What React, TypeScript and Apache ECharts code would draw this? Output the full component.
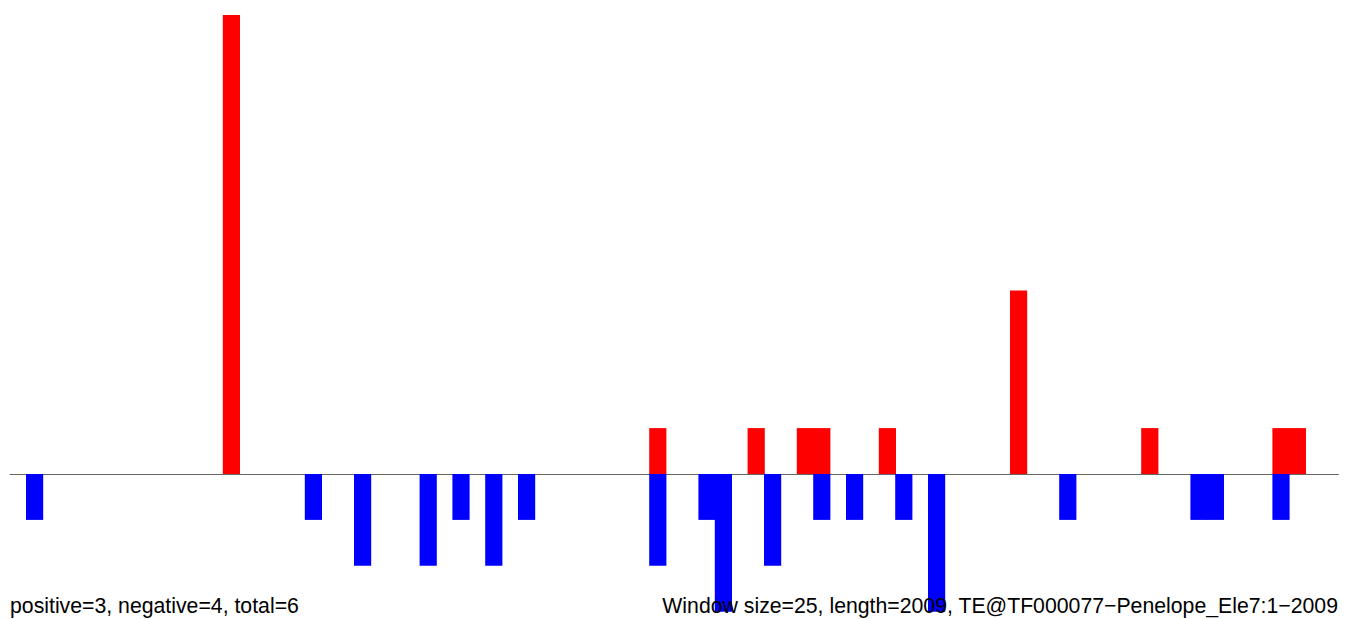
import React, { useEffect, useRef } from "react";
import * as echarts from "echarts";

// Window counts per 25-bp window (81 windows over length 2009)
const positive = [
  0, 0, 0, 0, 0, 0, 0, 0, 0, 0,
  0, 0, 0, 10, 0, 0, 0, 0, 0, 0,
  0, 0, 0, 0, 0, 0, 0, 0, 0, 0,
  0, 0, 0, 0, 0, 0, 0, 0, 0, 1,
  0, 0, 0, 0, 0, 1, 0, 0, 1, 1,
  0, 0, 0, 1, 0, 0, 0, 0, 0, 0,
  0, 4, 0, 0, 0, 0, 0, 0, 0, 1,
  0, 0, 0, 0, 0, 0, 0, 1, 1, 0,
  0,
];
const negative = [
  0, -1, 0, 0, 0, 0, 0, 0, 0, 0,
  0, 0, 0, 0, 0, 0, 0, 0, -1, 0,
  0, -2, 0, 0, 0, -2, 0, -1, 0, -2,
  0, -1, 0, 0, 0, 0, 0, 0, 0, -2,
  0, 0, -1, -3, 0, 0, -2, 0, 0, -1,
  0, -1, 0, 0, -1, 0, -3, 0, 0, 0,
  0, 0, 0, 0, -1, 0, 0, 0, 0, 0,
  0, 0, -1, -1, 0, 0, 0, -1, 0, 0,
  0,
];
const windowLabels = positive.map((_, i) => String(i + 1));
const leftCaption = "positive=3, negative=4, total=6";
const rightCaption = "Window size=25, length=2009, TE@TF000077\u2212Penelope_Ele7:1\u22122009";

const asBars = (arr: number[]) => arr.map((v) => (v === 0 ? "-" : v));

export default function App() {
  const ref = useRef<HTMLDivElement>(null);
  useEffect(() => {
    if (!ref.current) return;
    const chart = echarts.init(ref.current, null, { renderer: "svg" });
    const font = "21.25px 'Liberation Sans', Arial, sans-serif";
    chart.setOption({
      animation: false,
      backgroundColor: "#ffffff",
      grid: { left: 10, top: 15, width: 1328.4, height: 596.7, containLabel: false },
      xAxis: {
        type: "category",
        data: windowLabels,
        boundaryGap: true,
        axisLine: { show: true, onZero: true, lineStyle: { color: "#666666", width: 1 } },
        axisTick: { show: false },
        axisLabel: { show: false },
        splitLine: { show: false },
        z: 0,
      },
      yAxis: {
        type: "value",
        min: -3,
        max: 10,
        show: false,
        splitLine: { show: false },
      },
      series: [
        {
          type: "bar",
          name: "positive",
          stack: "s",
          data: asBars(positive),
          barWidth: 17.2,
          itemStyle: { color: "#ff0000" },
          z: 2,
        },
        {
          type: "bar",
          name: "negative",
          stack: "s",
          data: asBars(negative),
          barWidth: 17.2,
          itemStyle: { color: "#0000ff" },
          z: 2,
        },
      ],
      graphic: [
        {
          type: "text",
          x: 10,
          y: 606,
          z: 10,
          style: {
            text: leftCaption,
            font,
            fill: "#000000",
            textAlign: "left",
            textVerticalAlign: "middle",
          },
        },
        {
          type: "text",
          x: 1338,
          y: 606,
          z: 10,
          style: {
            text: rightCaption,
            font,
            fill: "#000000",
            textAlign: "right",
            textVerticalAlign: "middle",
          },
        },
      ],
    });
    return () => chart.dispose();
  }, []);
  return (
    <div
      ref={ref}
      style={{ position: "fixed", left: 0, top: 0, width: 1350, height: 619 }}
    />
  );
}
